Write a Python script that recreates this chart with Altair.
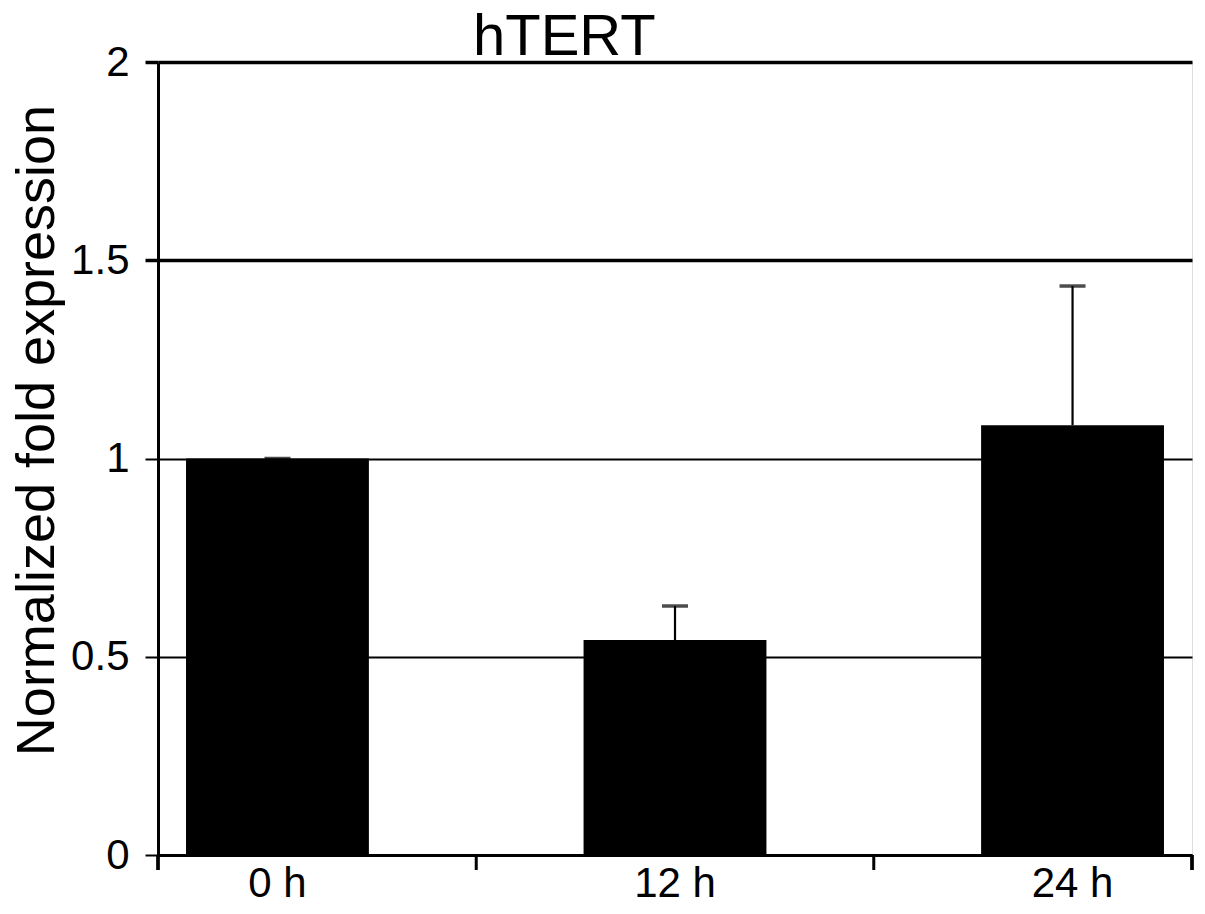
import altair as alt
import pandas as pd

# ---- data ----
categories = ["0 h", "12 h", "24 h"]
means = [1.0, 0.542, 1.084]
errors = [0.0, 0.086, 0.351]
y_ticks = [0, 0.5, 1, 1.5, 2]
chart_title = "hTERT"

df = pd.DataFrame({"time": categories, "mean": means, "err": errors})
df["upper"] = df["mean"] + df["err"]

W, H = 1034, 793
FONT = "Liberation Sans"
P_INNER = 0.54
P_OUTER = 0.0705
STEP = W / (len(categories) - P_INNER + 2 * P_OUTER)
GAP_HALF = STEP * P_INNER / 2

xscale = alt.Scale(domain=categories, paddingInner=P_INNER, paddingOuter=P_OUTER)
yscale = alt.Scale(domain=[0, 2], nice=False, zero=True)

x_axis = alt.Axis(
    title=None, ticks=False, grid=False, domain=True,
    domainColor="black", domainWidth=3,
    labelFont=FONT, labelFontSize=42, labelColor="black",
    labelAngle=0, labelPadding=8,
)

thick = {"condition": {"test": "datum.value >= 1.5", "value": 3.5}, "value": 2}

y_axis = alt.Axis(
    title="Normalized fold expression", values=y_ticks, format="~g",
    grid=True, gridColor="black", gridWidth=thick, gridOpacity=1,
    domain=True, domainColor="black", domainWidth=3,
    ticks=True, tickColor="black", tickSize=13, tickWidth=thick,
    labelFont=FONT, labelFontSize=42, labelColor="black", labelPadding=16,
    titleFont=FONT, titleFontSize=54, titleFontWeight="normal",
    titleColor="black", titlePadding=6, titleY=368,
)

base = alt.Chart(df).encode(
    x=alt.X("time:N", scale=xscale, axis=x_axis, sort=categories)
)

bars = base.mark_bar(color="black").encode(
    y=alt.Y("mean:Q", scale=yscale, axis=y_axis)
)
err_line = base.mark_rule(color="black", strokeWidth=2.2).encode(
    y="mean:Q", y2="upper:Q"
)
err_cap = base.mark_tick(color="black", thickness=3.5, size=26, orient="horizontal").encode(
    y="upper:Q"
)

# category-boundary ticks on the x axis (Excel style)
mid_ticks = (
    alt.Chart(df)
    .transform_filter("datum.time != '0 h'")
    .mark_rule(color="black", strokeWidth=3, xOffset=-GAP_HALF)
    .encode(
        x=alt.X("time:N", scale=xscale, sort=categories, bandPosition=0),
        y=alt.value(H), y2=alt.value(H + 15),
    )
)
left_tick = alt.Chart(df).mark_rule(color="black", strokeWidth=3).encode(
    x=alt.value(0), y=alt.value(H), y2=alt.value(H + 15)
)
right_tick = alt.Chart(df).mark_rule(color="black", strokeWidth=3).encode(
    x=alt.value(W), y=alt.value(H), y2=alt.value(H + 15)
)

# chart title drawn as a text mark above the plot area
title_df = pd.DataFrame({"label": [chart_title]})
title_mark = alt.Chart(title_df).mark_text(
    align="left", baseline="alphabetic", font=FONT, fontSize=58,
    color="black", dx=315, dy=-7,
).encode(text="label:N", x=alt.value(0), y=alt.value(0))

chart = (
    alt.layer(bars, err_line, err_cap, mid_ticks, left_tick, right_tick, title_mark)
    .properties(
        width=W, height=H,
        autosize=alt.AutoSizeParams(type="none"),
        padding={"left": 150, "top": 54, "right": 5, "bottom": 51},
    )
    .configure_view(stroke=None)
    .configure(background="white")
)

chart.save("out.html", embed_options={"renderer": "svg", "actions": False})
